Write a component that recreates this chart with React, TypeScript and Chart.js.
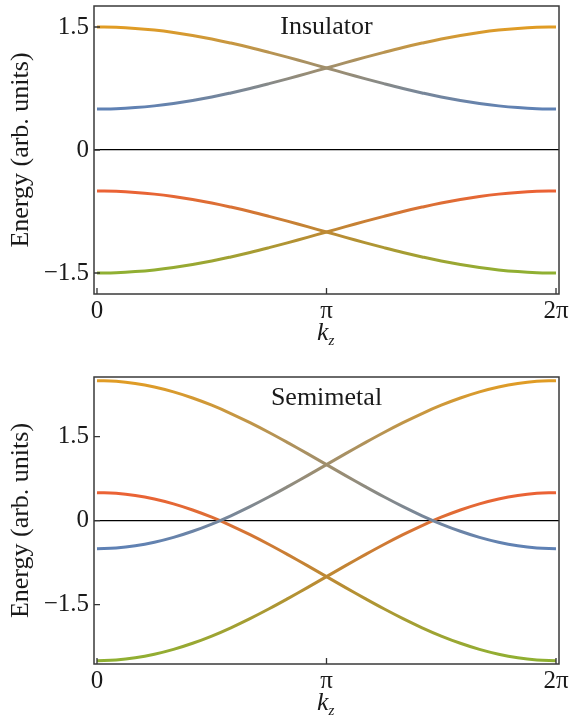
import React, { useEffect, useRef } from "react";
import { Chart, registerables } from "chart.js";

Chart.register(...registerables);

// ---------- data ----------
const kValues = [
  0, 0.2618, 0.5236, 0.7854, 1.0472, 1.309, 1.5708, 1.8326, 2.0944, 2.3562, 2.618, 2.8798, 3.1416,
  3.4034, 3.6652, 3.927, 4.1888, 4.4506, 4.7124, 4.9742, 5.236, 5.4978, 5.7596, 6.0214, 6.2832,
];
const kTickValues = [0, 3.14159265, 6.28318531];
const kTickLabels = ["0", "π", "2π"];
const energyTickValues = [-1.5, 0, 1.5];
const energyTickLabels = ["−1.5", "0", "1.5"];

// Insulator panel
const insUpperFalling = [
  1.5, 1.496, 1.483, 1.462, 1.433, 1.397, 1.354, 1.304, 1.25, 1.191, 1.129, 1.065, 1.0,
  0.935, 0.871, 0.809, 0.75, 0.696, 0.646, 0.603, 0.567, 0.538, 0.517, 0.504, 0.5,
];
const insUpperRising = [
  0.5, 0.504, 0.517, 0.538, 0.567, 0.603, 0.646, 0.696, 0.75, 0.809, 0.871, 0.935, 1.0,
  1.065, 1.129, 1.191, 1.25, 1.304, 1.354, 1.397, 1.433, 1.462, 1.483, 1.496, 1.5,
];
const insLowerFalling = [
  -0.5, -0.504, -0.517, -0.538, -0.567, -0.603, -0.646, -0.696, -0.75, -0.809, -0.871, -0.935, -1.0,
  -1.065, -1.129, -1.191, -1.25, -1.304, -1.354, -1.397, -1.433, -1.462, -1.483, -1.496, -1.5,
];
const insLowerRising = [
  -1.5, -1.496, -1.483, -1.462, -1.433, -1.397, -1.354, -1.304, -1.25, -1.191, -1.129, -1.065, -1.0,
  -0.935, -0.871, -0.809, -0.75, -0.696, -0.646, -0.603, -0.567, -0.538, -0.517, -0.504, -0.5,
];

// Semimetal panel
const semUpperFalling = [
  2.5, 2.487, 2.449, 2.386, 2.299, 2.19, 2.061, 1.913, 1.75, 1.574, 1.388, 1.196, 1.0,
  0.804, 0.612, 0.426, 0.25, 0.087, -0.061, -0.19, -0.299, -0.386, -0.449, -0.487, -0.5,
];
const semUpperRising = [
  -0.5, -0.487, -0.449, -0.386, -0.299, -0.19, -0.061, 0.087, 0.25, 0.426, 0.612, 0.804, 1.0,
  1.196, 1.388, 1.574, 1.75, 1.913, 2.061, 2.19, 2.299, 2.386, 2.449, 2.487, 2.5,
];
const semLowerFalling = [
  0.5, 0.487, 0.449, 0.386, 0.299, 0.19, 0.061, -0.087, -0.25, -0.426, -0.612, -0.804, -1.0,
  -1.196, -1.388, -1.574, -1.75, -1.913, -2.061, -2.19, -2.299, -2.386, -2.449, -2.487, -2.5,
];
const semLowerRising = [
  -2.5, -2.487, -2.449, -2.386, -2.299, -2.19, -2.061, -1.913, -1.75, -1.574, -1.388, -1.196, -1.0,
  -0.804, -0.612, -0.426, -0.25, -0.087, 0.061, 0.19, 0.299, 0.386, 0.449, 0.487, 0.5,
];

// ---------- styles ----------
const BLUE = "#5E81B5";
const ORANGE = "#E19C24";
const GREEN = "#8FB032";
const RED = "#EB6235";
const SERIF = "'Liberation Serif', 'Times New Roman', 'DejaVu Serif', serif";
const TEXT = "#1a1a1a";

type PanelSpec = {
  title: string;
  yMin: number;
  yMax: number;
  top: number;
  xAxisHeight: number;
  upper: number[][];
  lower: number[][];
};

function gradientColor(hiColor: string, loColor: string, pairValues: number[][]) {
  const all = pairValues.flat();
  const hi = Math.max(...all);
  const lo = Math.min(...all);
  return (ctx: any) => {
    const chart = ctx.chart;
    const area = chart.chartArea;
    if (!area) return hiColor;
    const ys = chart.scales.y;
    const g = chart.ctx.createLinearGradient(0, ys.getPixelForValue(hi), 0, ys.getPixelForValue(lo));
    g.addColorStop(0, hiColor);
    g.addColorStop(1, loColor);
    return g;
  };
}

const decorPlugin = {
  id: "decor",
  afterDraw(chart: any, _args: any, opts: any) {
    const { ctx, chartArea: a, scales } = chart;
    ctx.save();
    // inward ticks
    ctx.strokeStyle = "#333";
    ctx.lineWidth = 1.3;
    ctx.beginPath();
    for (const v of kTickValues) {
      const x = scales.x.getPixelForValue(v);
      ctx.moveTo(x, a.bottom);
      ctx.lineTo(x, a.bottom - 6);
    }
    for (const v of energyTickValues) {
      const y = scales.y.getPixelForValue(v);
      ctx.moveTo(a.left, y);
      ctx.lineTo(a.left + 6, y);
    }
    ctx.stroke();
    // frame
    ctx.strokeStyle = "#3a3a3a";
    ctx.lineWidth = 1.5;
    ctx.strokeRect(a.left, a.top, a.right - a.left, a.bottom - a.top);
    // panel title
    ctx.fillStyle = TEXT;
    ctx.font = `26px ${SERIF}`;
    ctx.textAlign = "center";
    ctx.textBaseline = "middle";
    ctx.fillText(opts.title, (a.left + a.right) / 2, a.top + 21);
    // x-axis title k_z
    const cx = (a.left + a.right) / 2;
    ctx.textBaseline = "alphabetic";
    ctx.textAlign = "right";
    ctx.font = `italic 26px ${SERIF}`;
    ctx.fillText("k", cx + 2, a.bottom + 46);
    ctx.textAlign = "left";
    ctx.font = `italic 15px ${SERIF}`;
    ctx.fillText("z", cx + 2, a.bottom + 51);
    ctx.restore();
  },
};

function makeConfig(p: PanelSpec): any {
  const upperColor = gradientColor(ORANGE, BLUE, p.upper);
  const lowerColor = gradientColor(RED, GREEN, p.lower);
  const mk = (vals: number[], color: any) => ({
    data: vals.map((v, i) => ({ x: kValues[i], y: v })),
    borderColor: color,
    borderWidth: 3,
    pointRadius: 0,
    fill: false,
    tension: 0.4,
    borderCapStyle: "butt",
  });
  return {
    type: "line",
    data: {
      datasets: [
        mk(p.upper[0], upperColor),
        mk(p.upper[1], upperColor),
        mk(p.lower[0], lowerColor),
        mk(p.lower[1], lowerColor),
      ],
    },
    options: {
      responsive: false,
      animation: false,
      layout: { padding: { top: p.top, right: 12, left: 0, bottom: 0 } },
      plugins: {
        legend: { display: false },
        tooltip: { enabled: false },
        decor: { title: p.title },
      },
      scales: {
        x: {
          type: "linear",
          min: -0.041,
          max: 6.2832 + 0.041,
          afterBuildTicks: (s: any) => {
            s.ticks = kTickValues.map((v) => ({ value: v }));
          },
          afterFit: (s: any) => {
            s.height = p.xAxisHeight;
            s.paddingLeft = 0;
            s.paddingRight = 0;
          },
          ticks: {
            callback: (_v: any, i: number) => kTickLabels[i],
            font: { family: SERIF, size: 25 },
            color: TEXT,
            padding: 2,
            maxRotation: 0,
            autoSkip: false,
          },
          grid: { display: false, drawTicks: false },
          border: { display: false },
        },
        y: {
          min: p.yMin,
          max: p.yMax,
          afterBuildTicks: (s: any) => {
            s.ticks = energyTickValues.map((v) => ({ value: v }));
          },
          afterFit: (s: any) => {
            s.width = 94;
            s.paddingTop = 0;
            s.paddingBottom = 0;
          },
          ticks: {
            callback: (_v: any, i: number) => energyTickLabels[i],
            font: { family: SERIF, size: 25 },
            color: TEXT,
            padding: 5,
          },
          grid: {
            drawTicks: false,
            lineWidth: 1.2,
            color: (c: any) => (c.tick && c.tick.value === 0 ? "#000" : "rgba(0,0,0,0)"),
          },
          border: { display: false },
          title: {
            display: true,
            text: "Energy (arb. units)",
            font: { family: SERIF, size: 26 },
            color: TEXT,
            padding: { top: 6, bottom: 0 },
          },
        },
      },
    },
    plugins: [decorPlugin],
  };
}

function Panel({ spec, width, height, top }: { spec: PanelSpec; width: number; height: number; top: number }) {
  const ref = useRef<HTMLCanvasElement | null>(null);
  useEffect(() => {
    if (!ref.current) return;
    const chart = new Chart(ref.current, makeConfig(spec));
    return () => chart.destroy();
  }, []);
  return (
    <canvas
      ref={ref}
      width={width}
      height={height}
      style={{ position: "absolute", left: 0, top, width, height, display: "block" }}
    />
  );
}

const insulator: PanelSpec = {
  title: "Insulator",
  yMin: -1.756,
  yMax: 1.756,
  top: 6,
  xAxisHeight: 66,
  upper: [insUpperFalling, insUpperRising],
  lower: [insLowerFalling, insLowerRising],
};

const semimetal: PanelSpec = {
  title: "Semimetal",
  yMin: -2.56,
  yMax: 2.565,
  top: 17,
  xAxisHeight: 59,
  upper: [semUpperFalling, semUpperRising],
  lower: [semLowerFalling, semLowerRising],
};

export default function App() {
  return (
    <div style={{ position: "absolute", left: 0, top: 0, width: 571, height: 723, background: "#fff" }}>
      <Panel spec={insulator} width={571} height={360} top={0} />
      <Panel spec={semimetal} width={571} height={363} top={360} />
    </div>
  );
}
